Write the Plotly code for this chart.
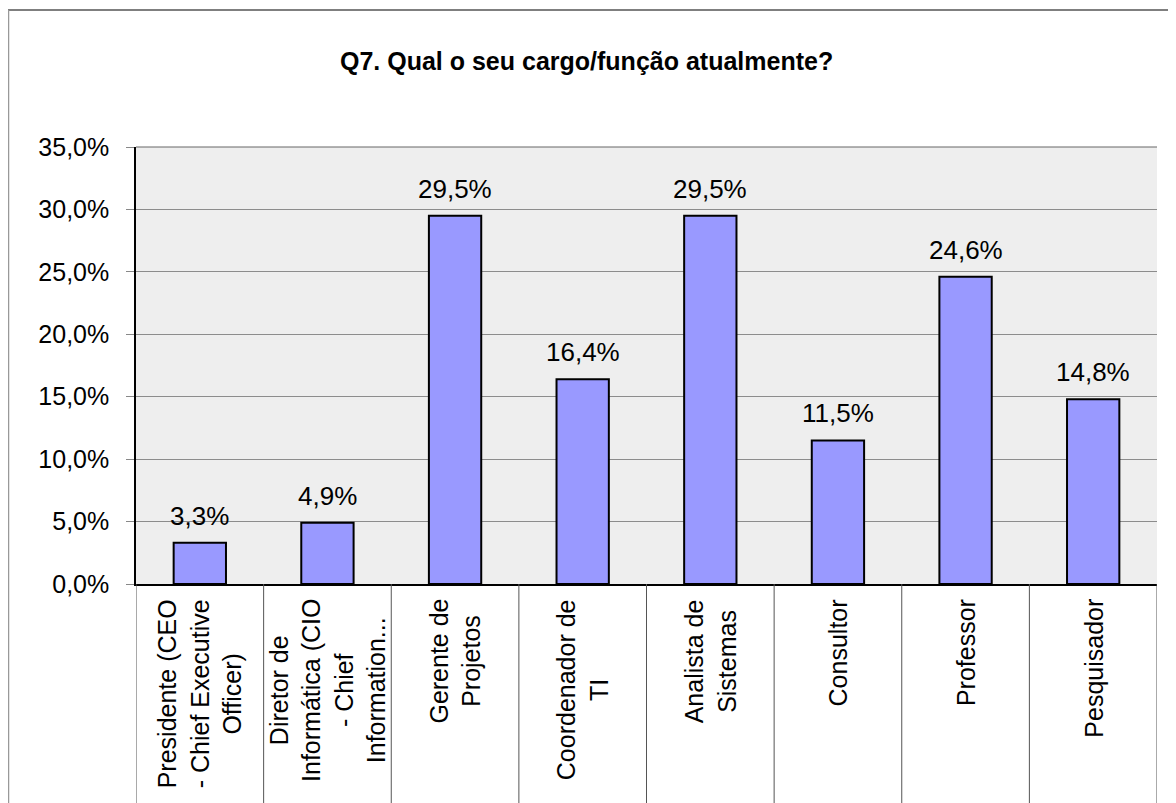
import plotly.graph_objects as go

categories = [
    "Presidente (CEO<br>- Chief Executive<br>Officer)",
    "Diretor de<br>Informática (CIO<br>- Chief<br>Information...",
    "Gerente de<br>Projetos",
    "Coordenador de<br>TI",
    "Analista de<br>Sistemas",
    "Consultor",
    "Professor",
    "Pesquisador",
]
values = [3.3, 4.9, 29.5, 16.4, 29.5, 11.5, 24.6, 14.8]
y_ticks = [0, 5, 10, 15, 20, 25, 30, 35]
title_text = "Q7. Qual o seu cargo/função atualmente?"

def pct(v):
    return f"{v:.1f}".replace(".", ",") + "%"

# page body has an 8px margin; work in screen pixels and convert
OFF = 8
SW, SH = 1176, 803
W, H = SW - OFF, SH - OFF
PL, PR, PT, PB = 136, 1157, 147, 584          # plot area in screen px
L, R, T, B = PL - OFF, W - (PR - OFF), PT - OFF, H - (PB - OFF)
PW, PH = W - L - R, H - T - B

def px_x(sx):
    return (sx - PL) / PW

def px_y(sy):
    return (PB - sy) / PH

FONT = "Arial, Liberation Sans, sans-serif"
xs = list(range(len(categories)))

fig = go.Figure()
fig.add_trace(go.Bar(
    x=xs, y=values,
    marker=dict(color="#9999FF", line=dict(color="#000000", width=2)),
    width=0.41,
    hoverinfo="skip",
))

# data labels
for x, v in zip(xs, values):
    fig.add_annotation(
        x=x, y=v, xref="x", yref="y",
        text=pct(v),
        showarrow=False, yanchor="bottom", yshift=10,
        font=dict(size=26, color="#000000", family=FONT),
    )

# category labels (rotated, centered lines)
for x, c in zip(xs, categories):
    fig.add_annotation(
        x=x, y=px_y(597), xref="x", yref="paper",
        text=c, textangle=-90, showarrow=False,
        xanchor="center", yanchor="top", align="center",
        font=dict(size=25, color="#000000", family=FONT),
    )

shapes = []
# category dividers in label area
for i in range(len(categories) + 1):
    shapes.append(dict(type="line", xref="x", yref="paper",
                       x0=i - 0.5, x1=i - 0.5, y0=0, y1=px_y(SH + 5),
                       line=dict(color="#555555", width=1)))
# outer chart border (cropped)
shapes.append(dict(type="line", xref="paper", yref="paper",
                   x0=px_x(8), x1=px_x(SW + 5), y0=px_y(10), y1=px_y(10),
                   line=dict(color="#555555", width=1.5)))
shapes.append(dict(type="line", xref="paper", yref="paper",
                   x0=px_x(8.5), x1=px_x(8.5), y0=px_y(10), y1=px_y(SH + 5),
                   line=dict(color="#999999", width=1.5)))
# top edge of plot area
shapes.append(dict(type="line", xref="paper", yref="paper",
                   x0=0, x1=1, y0=1, y1=1,
                   line=dict(color="#666666", width=1)))

fig.update_layout(
    width=W, height=H,
    margin=dict(l=L, r=R, t=T, b=B, pad=0),
    paper_bgcolor="#FFFFFF",
    plot_bgcolor="#EEEEEE",
    showlegend=False,
    font=dict(family=FONT, size=25, color="#000000"),
    title=dict(
        text="<b>" + title_text + "</b>",
        xref="container", yref="container",
        x=(340 - OFF) / W, xanchor="left",
        y=1 - (61 - OFF) / H, yanchor="middle",
        font=dict(size=25, family=FONT, color="#000000"),
    ),
    shapes=shapes,
    xaxis=dict(
        range=[-0.5, len(categories) - 0.5],
        showticklabels=False, ticks="",
        showgrid=False, zeroline=False,
        showline=True, linecolor="#000000", linewidth=1.5,
        fixedrange=True,
    ),
    yaxis=dict(
        range=[0, 35],
        tickmode="array",
        tickvals=y_ticks,
        ticktext=[pct(v) for v in y_ticks],
        ticks="outside", ticklen=8, tickcolor="#888888", tickwidth=1,
        ticklabelstandoff=12,
        showgrid=True, gridcolor="#8C8C8C", gridwidth=1,
        zeroline=False,
        showline=True, linecolor="#000000", linewidth=1.5,
        tickfont=dict(size=25, family=FONT, color="#000000"),
        fixedrange=True,
    ),
)

fig.write_html("out.html")
